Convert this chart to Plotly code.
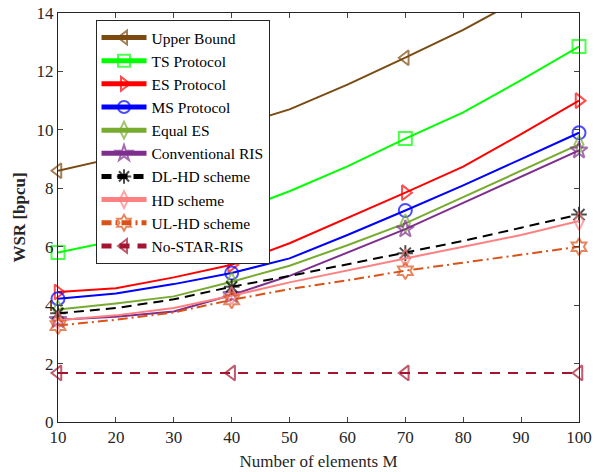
import plotly.graph_objects as go
import plotly.io as pio

pio.templates.default = "none"

# Number of reflecting elements
M = [10, 20, 30, 40, 50, 60, 70, 80, 90, 100]

# Weighted sum rate [bpcu] per scheme
upper_bound = [8.6, 9.05, 9.55, 10.1, 10.7, 11.55, 12.47, 13.42, 14.5, 15.6]
ts_protocol = [5.8, 6.2, 6.62, 7.15, 7.9, 8.75, 9.7, 10.6, 11.7, 12.85]
es_protocol = [4.45, 4.58, 4.95, 5.38, 6.12, 6.98, 7.85, 8.74, 9.85, 11.0]
ms_protocol = [4.22, 4.4, 4.72, 5.1, 5.6, 6.4, 7.24, 8.1, 9.0, 9.9]
equal_es = [3.85, 4.06, 4.3, 4.8, 5.35, 6.05, 6.8, 7.7, 8.6, 9.5]
conventional_ris = [3.5, 3.6, 3.78, 4.35, 5.0, 5.8, 6.6, 7.5, 8.4, 9.3]
dl_hd = [3.72, 3.9, 4.2, 4.63, 5.0, 5.4, 5.78, 6.2, 6.65, 7.1]
hd_scheme = [3.48, 3.65, 3.9, 4.32, 4.78, 5.2, 5.6, 6.0, 6.4, 6.88]
ul_hd = [3.3, 3.5, 3.75, 4.18, 4.55, 4.85, 5.18, 5.45, 5.72, 6.0]
no_star_ris = [1.68] * 10

# Markers are drawn only at every third sample (M = 10, 40, 70, 100)
MARK = 13
sizes = [MARK if m in (10, 40, 70, 100) else 0 for m in M]

series = [
    ("Upper Bound", upper_bound, "#7A4A10", "triangle-left-open", "solid"),
    ("TS Protocol", ts_protocol, "#00FF00", "square-open", "solid"),
    ("ES Protocol", es_protocol, "#FF0000", "triangle-right-open", "solid"),
    ("MS Protocol", ms_protocol, "#0000FF", "circle-open", "solid"),
    ("Equal ES", equal_es, "#77AC30", "diamond-tall-open", "solid"),
    ("Conventional RIS", conventional_ris, "#7E2F8E", "star-open", "solid"),
    ("DL-HD scheme", dl_hd, "#000000", "asterisk-open", "10px,6px"),
    ("HD scheme", hd_scheme, "#FF8080", "diamond-tall-open", "solid"),
    ("UL-HD scheme", ul_hd, "#D95319", "hexagram-open", "10px,4px,2px,4px"),
    ("No-STAR-RIS", no_star_ris, "#A2142F", "triangle-left-open", "10px,8px"),
]

fig = go.Figure()
for name, y, color, symbol, dash in series:
    fig.add_trace(go.Scatter(
        x=M, y=y, name=name, mode="lines+markers",
        line=dict(color=color, width=2, dash=dash),
        marker=dict(symbol=symbol, size=sizes, color=color,
                    line=dict(color=color, width=2)),
        cliponaxis=False,
    ))

FONT = "Liberation Serif"
AX = "#262626"

fig.update_layout(
    width=595, height=472,
    margin=dict(l=58, r=16, t=13, b=50, autoexpand=False),
    paper_bgcolor="white", plot_bgcolor="white",
    font=dict(family=FONT, size=17, color=AX),
    showlegend=True,
    legend=dict(
        x=0.072, y=0.983, xanchor="left", yanchor="top",
        bgcolor="white", bordercolor=AX, borderwidth=1,
        font=dict(family=FONT, size=15.5, color="#000000"),
        itemsizing="constant", itemwidth=45, tracegroupgap=0,
    ),
    xaxis=dict(
        range=[10, 100], tickvals=M, ticks="inside", ticklen=5,
        tickfont=dict(family=FONT, size=17, color=AX),
        showline=True, linecolor=AX, linewidth=1, mirror="ticks",
        showgrid=False, zeroline=False,
        title=dict(text="Number of elements M", standoff=8,
                   font=dict(family=FONT, size=17)),
    ),
    yaxis=dict(
        range=[0, 14], tickvals=list(range(0, 15, 2)), ticks="inside", ticklen=5,
        tickfont=dict(family=FONT, size=17, color=AX),
        showline=True, linecolor=AX, linewidth=1, mirror="ticks",
        showgrid=False, zeroline=False,
        title=dict(text="<b>WSR [bpcu]</b>", standoff=6,
                   font=dict(family=FONT, size=17)),
    ),
)

fig.write_html("out.html")
